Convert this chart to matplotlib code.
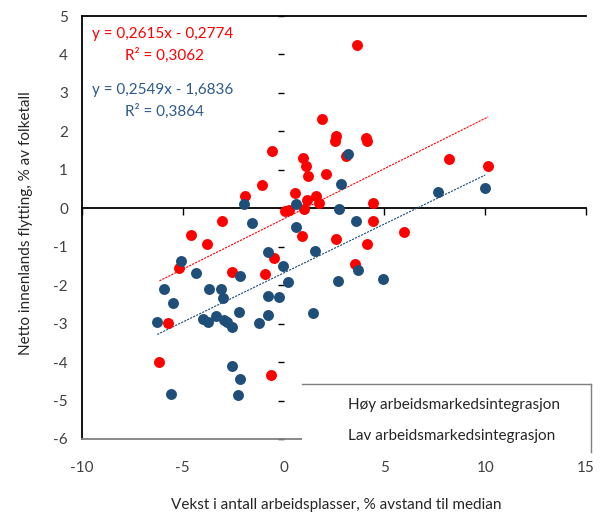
import numpy as np
import matplotlib
matplotlib.use("Agg")
from matplotlib import pyplot as plt
from matplotlib.patches import Rectangle
from matplotlib.lines import Line2D

plt.rcParams['font.family'] = ['Lato', 'DejaVu Sans']
plt.rcParams['axes.unicode_minus'] = False

# Høy arbeidsmarkedsintegrasjon (red points)
hoy_x = [3.66, 1.91, 2.59, 2.56, 4.11, 4.16, -0.56, 3.09, 0.97, 1.10,
         1.19, 2.10, 8.18, 10.15, -1.05, -1.91, 0.56, 1.18, 1.61, 1.76,
         4.44, 0.09, 0.25, 0.99, -3.07, 4.44, 5.96, 0.92, 2.59, 4.15,
         -4.61, -3.78, -0.46, 3.55, -5.19, -2.54, -0.94, -5.72, -6.16, -0.64]
hoy_y = [4.25, 2.31, 1.88, 1.76, 1.84, 1.76, 1.50, 1.37, 1.30, 1.10,
         0.84, 0.88, 1.29, 1.10, 0.61, 0.32, 0.41, 0.22, 0.32, 0.14,
         0.15, -0.08, -0.04, -0.01, -0.34, -0.32, -0.62, -0.73, -0.81, -0.94,
         -0.70, -0.94, -1.30, -1.45, -1.56, -1.65, -1.72, -2.99, -4.01, -4.34]

# Lav arbeidsmarkedsintegrasjon (blue points)
lav_x = [3.17, 2.84, 7.67, 10.00, -1.96, 0.60, 2.76, -1.59, 0.60, 3.61,
         1.54, -0.75, -5.10, -0.02, 3.71, -4.36, -2.14, 0.22, 2.72, 4.91,
         -5.93, -3.70, -3.12, -3.00, -5.47, -0.75, -0.22, -2.21, 1.46, -0.75,
         -6.27, -4.01, -3.75, -3.37, -2.95, -2.79, -2.54, -1.23, -2.54, -2.14,
         -5.57, -2.27]
lav_y = [1.41, 0.63, 0.43, 0.54, 0.11, 0.11, -0.03, -0.38, -0.49, -0.33,
         -1.10, -1.15, -1.37, -1.49, -1.61, -1.69, -1.76, -1.91, -1.89, -1.84,
         -2.10, -2.11, -2.11, -2.34, -2.47, -2.29, -2.32, -2.69, -2.72, -2.77,
         -2.97, -2.88, -2.96, -2.80, -2.91, -2.95, -3.10, -2.98, -4.11, -4.43,
         -4.84, -4.85]

# trend lines as printed on the chart
HOY_SLOPE, HOY_INTERCEPT, HOY_R2 = 0.2615, -0.2774, 0.3062
LAV_SLOPE, LAV_INTERCEPT, LAV_R2 = 0.2549, -1.6836, 0.3864

x_ticks = [-10, -5, 0, 5, 10, 15]
y_ticks = [-6, -5, -4, -3, -2, -1, 0, 1, 2, 3, 4, 5]
series_labels = ["Høy arbeidsmarkedsintegrasjon", "Lav arbeidsmarkedsintegrasjon"]

RED = '#ff0000'
BLUE = '#1f4e79'
TXT = '#404040'
W, H = 603, 517


def fx(px):
    """pixel column -> figure fraction"""
    return px / W


def fy(py):
    """pixel row -> figure fraction"""
    return 1 - py / H


def fmt(v):
    return f"{v:.4f}".replace('.', ',')


def equation(slope, intercept):
    sign = '-' if intercept < 0 else '+'
    return f"y = {fmt(slope)}x {sign} {fmt(abs(intercept))}"


fig = plt.figure(figsize=(W / 100, H / 100), dpi=100)
ax = fig.add_axes([fx(82), fy(439), fx(586) - fx(82), fy(16) - fy(439)])
ax.set_xlim(x_ticks[0], x_ticks[-1])
ax.set_ylim(y_ticks[0], y_ticks[-1])

# trend lines over each series' x range
for xs, slope, icpt, col in [(hoy_x, HOY_SLOPE, HOY_INTERCEPT, RED),
                             (lav_x, LAV_SLOPE, LAV_INTERCEPT, BLUE)]:
    xr = np.array([min(xs), max(xs)])
    ax.plot(xr, slope * xr + icpt, color=col, lw=0.8, ls=(0, (2, 1)), zorder=2)

ax.scatter(hoy_x, hoy_y, s=62, color=RED, linewidths=0, zorder=3)
ax.scatter(lav_x, lav_y, s=62, color=BLUE, linewidths=0, zorder=4)

# labels stay at the edges, axis lines cross at zero
ax.set_xticks(x_ticks)
ax.set_xticklabels([str(t) for t in x_ticks])
ax.set_yticks(y_ticks)
ax.set_yticklabels([str(t) for t in y_ticks])
ax.tick_params(axis='both', length=0, labelsize=11, labelcolor=TXT)
ax.tick_params(axis='x', pad=16)
ax.tick_params(axis='y', pad=10)
for side in ['left', 'top']:
    ax.spines[side].set_color('black')
    ax.spines[side].set_linewidth(1.3)
ax.spines['bottom'].set_color('#808080')
ax.spines['bottom'].set_linewidth(1.3)
ax.spines['right'].set_visible(False)

x0 = ax.secondary_xaxis(0, transform=ax.transData)
x0.set_xticks(x_ticks)
x0.tick_params(length=5, width=1, color='black', labelbottom=False, labeltop=False)
x0.spines['top'].set_visible(False)
x0.spines['bottom'].set_linewidth(1.3)

y0 = ax.secondary_yaxis(0, transform=ax.transData)
y0.set_yticks(y_ticks)
y0.tick_params(length=4, width=1, color='black', labelleft=False, labelright=False)
for s in y0.spines.values():
    s.set_visible(False)

ax.set_xlabel("Vekst i antall arbeidsplasser, % avstand til median", fontsize=11, color='#262626')
ax.xaxis.set_label_coords(0.505, -0.14)
ax.set_ylabel("Netto innenlands flytting, % av folketall", fontsize=11, color='#262626')
ax.yaxis.set_label_coords(-0.097, 0.51)

# trend line equations
fig.text(fx(92), fy(34), equation(HOY_SLOPE, HOY_INTERCEPT), color=RED, fontsize=11, va='center')
fig.text(fx(125), fy(55), f"R² = {fmt(HOY_R2)}", color=RED, fontsize=11, va='center')
fig.text(fx(92), fy(90), equation(LAV_SLOPE, LAV_INTERCEPT), color='#2e5a88', fontsize=11, va='center')
fig.text(fx(125), fy(111), f"R² = {fmt(LAV_R2)}", color='#2e5a88', fontsize=11, va='center')

# legend box sitting over the lower right corner
fig.add_artist(Rectangle((fx(302), fy(452)), fx(591) - fx(302), fy(384) - fy(452),
                         transform=fig.transFigure, facecolor='white', edgecolor='none'))
fig.add_artist(Line2D([fx(302), fx(591)], [fy(384), fy(384)], transform=fig.transFigure,
                      color='#7f7f7f', lw=1))
fig.add_artist(Line2D([fx(591), fx(591)], [fy(384), fy(452)], transform=fig.transFigure,
                      color='#7f7f7f', lw=1))
blank = [Line2D([], [], ls='none') for _ in series_labels]
fig.legend(blank, series_labels, loc='upper left', bbox_to_anchor=(fx(340), fy(390)),
           frameon=False, handlelength=0, handletextpad=0, fontsize=11,
           labelspacing=1.15, borderpad=0, labelcolor='#262626')

fig.savefig('out.png', dpi=100)
